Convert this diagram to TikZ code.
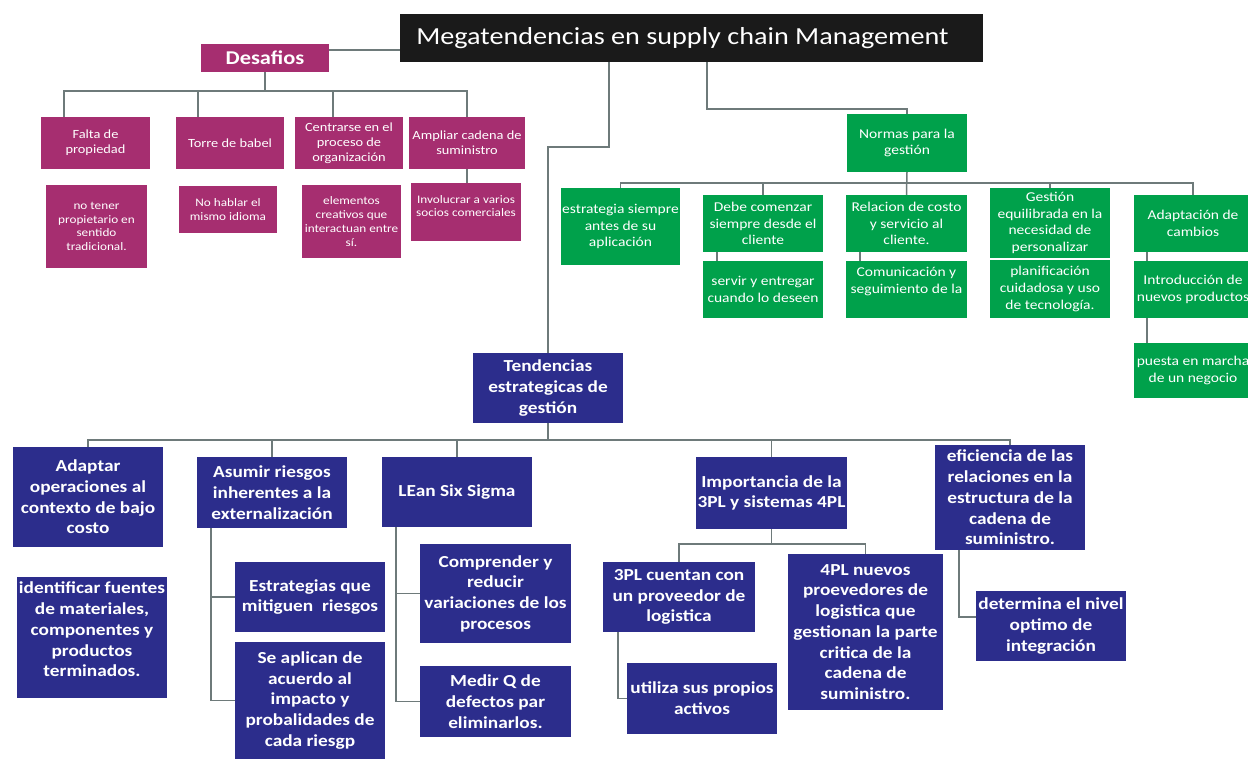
\documentclass[tikz,border=0pt]{standalone}
\usepackage{fontspec}
\newfontfamily\cf[FakeStretch=1.15]{Carlito}
\usetikzlibrary{calc}
\definecolor{mag}{RGB}{166,46,112}
\definecolor{grn}{RGB}{0,161,75}
\definecolor{blu}{RGB}{44,45,140}
\definecolor{ttl}{RGB}{26,26,26}
\definecolor{ln}{RGB}{110,122,122}
\pgfdeclarelayer{bg}\pgfsetlayers{bg,main}
\tikzset{
 boxbase/.style={inner sep=0pt, outer sep=0pt},
 magbox/.style={boxbase, fill=mag},
 grnbox/.style={boxbase, fill=grn},
 blubox/.style={boxbase, fill=blu},
 ttlbox/.style={boxbase, fill=ttl},
 txt/.style={text=white, align=center, inner sep=0pt},
 ttltxt/.style={txt, font=\cf\fontsize{24.5}{29}\selectfont},
 destxt/.style={txt, font=\cf\bfseries\fontsize{19.5}{23}\selectfont},
 magtxt/.style={txt, font=\cf\fontsize{12.5}{15}\selectfont},
 magtxts/.style={txt, font=\cf\fontsize{11.5}{13.8}\selectfont},
 grntxt/.style={txt, font=\cf\fontsize{13.5}{16.7}\selectfont},
 blutxt/.style={txt, font=\cf\bfseries\fontsize{16.8}{20.7}\selectfont},
 conn/.style={draw=ln, line width=1.5pt},
}
% style, name, x1, y1, x2, y2, text style, text
\newcommand\bx[8]{%
 \pgfmathsetmacro\myW{#5-#3}\pgfmathsetmacro\myH{#6-#4}%
 \pgfmathsetmacro\myX{(#3+#5)/2}\pgfmathsetmacro\myY{(#4+#6)/2}%
 \node[#1, minimum width=\myW pt, minimum height=\myH pt] (#2) at (\myX,\myY) {};
 \node[#7] at (#2.center) {#8};}
\begin{document}
\begin{tikzpicture}[x=1pt,y=-1pt]
\useasboundingbox (0,0) rectangle (1248,759);
% title and Desafios
\bx{ttlbox}{title}{400}{14}{983}{62}{ttltxt, xshift=-9pt}{Megatendencias en supply chain Management}
\bx{magbox}{desafios}{201}{44}{329}{72}{destxt}{Desafios}
% magenta level 1
\bx{magbox}{falta}{41}{117}{150}{169}{magtxt}{Falta de\\propiedad}
\bx{magbox}{torre}{176}{117}{284}{169}{magtxt}{Torre de babel}
\bx{magbox}{centr}{295}{117}{403}{169}{magtxt}{Centrarse en el\\proceso de\\organización}
\bx{magbox}{ampl}{409}{117}{525}{169}{magtxt}{Ampliar cadena de\\suministro}
% magenta level 2
\bx{magbox}{notener}{46}{185}{147}{268}{magtxts}{no tener\\propietario en\\sentido\\tradicional.}
\bx{magbox}{nohablar}{179}{186}{277}{233}{magtxts}{No hablar el\\mismo idioma}
\bx{magbox}{elem}{302}{185}{401}{258}{magtxts}{elementos\\creativos que\\interactuan entre\\sí.}
\bx{magbox}{invol}{411}{183}{521}{241}{magtxts, yshift=6pt}{Involucrar a varios\\socios comerciales}
% green
\bx{grnbox}{normas}{847}{114}{967}{172}{grntxt}{Normas para la\\gestión}
\bx{grnbox}{estr}{561}{188}{680}{265}{grntxt}{estrategia siempre\\antes de su\\aplicación}
\bx{grnbox}{debe}{703}{195}{823}{252}{grntxt}{Debe comenzar\\siempre desde el\\cliente}
\bx{grnbox}{rel}{846}{195}{967}{252}{grntxt}{Relacion de costo\\y servicio al\\cliente.}
\bx{grnbox}{gest}{990}{188}{1110}{258}{grntxt}{Gestión\\equilibrada en la\\necesidad de\\personalizar}
\bx{grnbox}{adapt}{1134}{195}{1252}{252}{grntxt}{Adaptación de\\cambios}
\bx{grnbox}{servir}{703}{261}{823}{318}{grntxt}{servir y entregar\\cuando lo deseen}
\bx{grnbox}{comun}{846}{261}{967}{318}{grntxt, yshift=8pt}{Comunicación y\\seguimiento de la}
\bx{grnbox}{plan}{990}{260}{1110}{318}{grntxt}{planificación\\cuidadosa y uso\\de tecnología.}
\bx{grnbox}{intro}{1134}{261}{1252}{318}{grntxt}{Introducción de\\nuevos productos}
\bx{grnbox}{puesta}{1134}{343}{1252}{398}{grntxt}{puesta en marcha\\de un negocio}
% blue
\bx{blubox}{tend}{473}{353}{623}{423}{blutxt}{Tendencias\\estrategicas de\\gestión}
\bx{blubox}{adaptar}{13}{447}{163}{547}{blutxt}{Adaptar\\operaciones al\\contexto de bajo\\costo}
\bx{blubox}{asumir}{197}{457}{347}{528}{blutxt}{Asumir riesgos\\inherentes a la\\externalización}
\bx{blubox}{lean}{382}{457}{532}{527}{blutxt}{LEan Six Sigma}
\bx{blubox}{imp}{696}{457}{847}{529}{blutxt}{Importancia de la\\3PL y sistemas 4PL}
\bx{blubox}{efic}{935}{445}{1085}{550}{blutxt}{eficiencia de las\\relaciones en la\\estructura de la\\cadena de\\suministro.}
\bx{blubox}{ident}{17}{577}{167}{698}{blutxt, yshift=8pt}{identificar fuentes\\de materiales,\\componentes y\\productos\\terminados.}
\bx{blubox}{estrat}{235}{562}{385}{632}{blutxt}{Estrategias que\\mitiguen \ riesgos}
\bx{blubox}{seapl}{235}{642}{385}{759}{blutxt}{Se aplican de\\acuerdo al\\impacto y\\probalidades de\\cada riesgp}
\bx{blubox}{compr}{420}{544}{571}{643}{blutxt}{Comprender y\\reducir\\variaciones de los\\procesos}
\bx{blubox}{medir}{420}{666}{571}{737}{blutxt}{Medir Q de\\defectos par\\eliminarlos.}
\bx{blubox}{tpl}{603}{562}{755}{632}{blutxt}{3PL cuentan con\\un proveedor de\\logistica}
\bx{blubox}{util}{627}{663}{777}{734}{blutxt}{utiliza sus propios\\activos}
\bx{blubox}{fpl}{788}{554}{943}{710}{blutxt}{4PL nuevos\\proevedores de\\logistica que\\gestionan la parte\\critica de la\\cadena de\\suministro.}
\bx{blubox}{determ}{976}{591}{1126}{661}{blutxt}{determina el nivel\\optimo de\\integración}
% coordinates for connectors
\coordinate (dB) at (267,91);
\coordinate (dA) at (64,91);
\coordinate (dT) at (198,91);
\coordinate (dC) at (333,91);
\coordinate (tA) at (609,147);
\coordinate (nA) at (707,109);
\coordinate (gB) at (908,183);
\coordinate (bB) at (548,440);
\coordinate (aX) at (211,0);
\coordinate (lX) at (396,0);
\coordinate (iB) at (772,544);
\coordinate (uX) at (618,0);
\coordinate (eX) at (959,0);
\begin{pgfonlayer}{bg}
% Desafios branch
\draw[conn] ([yshift=-6pt]desafios.north east) -- ([yshift=-6pt]desafios.north east -| title.west);
\draw[conn] (desafios.south) -- (desafios.south |- dB);
\draw[conn] (falta.north -| dA) |- (dB -| ampl.north) -- (ampl.north);
\draw[conn] (torre.north -| dT) -- (dT);
\draw[conn] (centr.north -| dC) -- (dC);
\draw[conn] (ampl.south) -- (ampl.south |- invol.north);
% Tendencias and Normas from title
\draw[conn] (title.south -| tA) -- (tA) -| (tend.north);
\draw[conn] (title.south -| nA) -- (nA) -| (normas.north);
% green tree
\draw[conn] (normas.south) -- (rel.north);
\draw[conn] (estr.north) |- (gB -| adapt.north) -- (adapt.north);
\draw[conn] (debe.north) -- (debe.north |- gB);
\draw[conn] (gest.north) -- (gest.north |- gB);
\draw[conn] ([xshift=14pt]debe.south west) -- ([xshift=14pt]servir.north west);
\draw[conn] ([xshift=14pt]rel.south west) -- ([xshift=14pt]comun.north west);
\draw[conn] ([xshift=13pt]adapt.south west) -- ([xshift=13pt]puesta.north west);
% blue tree
\draw[conn] (tend.south) -- (tend.south |- bB);
\draw[conn] (adaptar.north) |- (bB -| efic.north) -- (efic.north);
\draw[conn] (asumir.north) -- (asumir.north |- bB);
\draw[conn] (lean.north) -- (lean.north |- bB);
\draw[conn] (imp.north) -- (imp.north |- bB);
\draw[conn] (asumir.south -| aX) |- (seapl.west);
\draw[conn] (estrat.west -| aX) -- (estrat.west);
\draw[conn] (lean.south -| lX) |- (medir.west);
\draw[conn] (compr.west -| lX) -- (compr.west);
\draw[conn] (imp.south) -- (imp.south |- iB);
\draw[conn] (tpl.north) |- (iB -| fpl.north) -- (fpl.north);
\draw[conn] (tpl.south -| uX) |- (util.west);
\draw[conn] (efic.south -| eX) |- ([yshift=9pt]determ.west);
\end{pgfonlayer}
\end{tikzpicture}
\end{document}
